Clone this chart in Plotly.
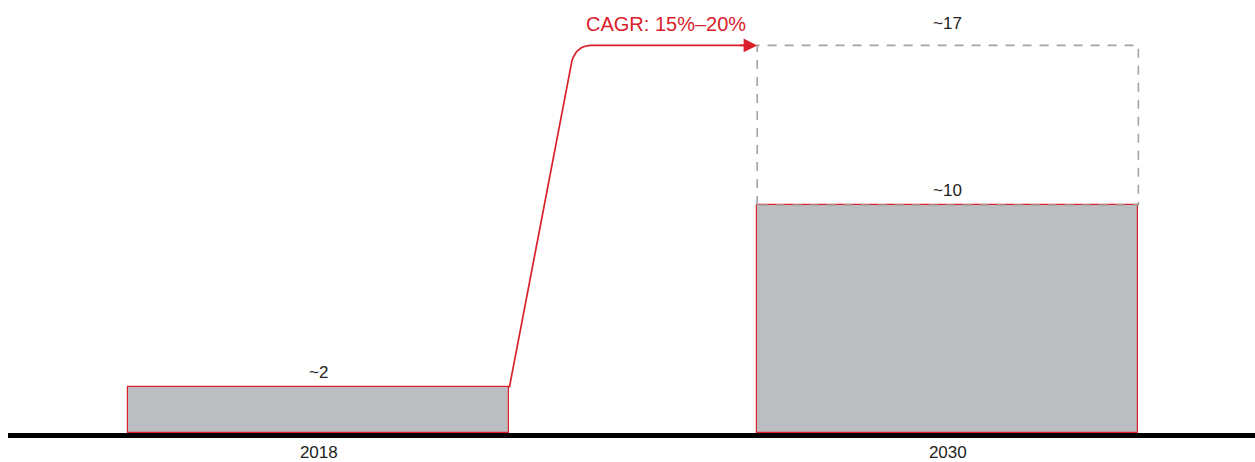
import plotly.graph_objects as go

# ---- data ----
categories = ["2018", "2030"]
base_values = [2, 10]
base_labels = ["~2", "~10"]
high_value = 17
high_label = "~17"
cagr_text = "CAGR: 15%–20%"

# ---- style ----
RED = "#d9202b"
GREY_FILL = "#bcbdc1"
DASH_GREY = "#a4a4a4"
TEXT = "#222222"
FONT = "Liberation Sans, Arial, sans-serif"
BAR_W = 0.606

xpos = list(range(len(categories)))
half = BAR_W / 2

fig = go.Figure()

fig.add_trace(go.Bar(
    x=xpos, y=base_values, width=BAR_W,
    marker=dict(color=GREY_FILL, line=dict(color=RED, width=1.2)),
    hoverinfo="skip", showlegend=False,
))

# dashed range box for 2030 (from base value to high value)
x2030 = xpos[1]
fig.add_trace(go.Scatter(
    x=[x2030 - half, x2030 - half, x2030 + half, x2030 + half, x2030 - half],
    y=[base_values[1], high_value, high_value, base_values[1], base_values[1]],
    mode="lines", line=dict(color=DASH_GREY, width=1.6, dash="9px,8px"),
    hoverinfo="skip", showlegend=False,
))

# CAGR arrow path: from top-right of 2018 bar, up, rounded corner, to 2030 high box
x_start = xpos[0] + half
y_start = base_values[0]
x_end = x2030 - half
y_end = high_value
# corner geometry (style)
cx_line_end, cy_line_end = 0.400, y_end - 0.95
cx_ctrl = 0.406
cx_curve_end = 0.433
path_x = [x_start, cx_line_end]
path_y = [y_start, cy_line_end]
n = 12
for i in range(1, n + 1):
    t = i / n
    bx = (1 - t) ** 2 * cx_line_end + 2 * (1 - t) * t * cx_ctrl + t ** 2 * cx_curve_end
    by = (1 - t) ** 2 * cy_line_end + 2 * (1 - t) * t * y_end + t ** 2 * y_end
    path_x.append(bx)
    path_y.append(by)
path_x.append(x_end - 0.015)
path_y.append(y_end)
fig.add_trace(go.Scatter(
    x=path_x, y=path_y, mode="lines",
    line=dict(color=RED, width=1.7, shape="linear"),
    hoverinfo="skip", showlegend=False,
))

annotations = []
annotations.append(dict(
    x=x_end, y=y_end, ax=x_end - 0.03, ay=y_end,
    xref="x", yref="y", axref="x", ayref="y",
    showarrow=True, arrowhead=2, arrowsize=1.6, arrowwidth=1.7,
    arrowcolor=RED, text="",
))
annotations.append(dict(
    x=0.552, y=y_end, xref="x", yref="y", text=cagr_text,
    showarrow=False, yanchor="bottom", yshift=8,
    font=dict(family=FONT, size=20, color=RED),
))
for xi, v, lab in zip(xpos, base_values, base_labels):
    annotations.append(dict(
        x=xi, y=v, xref="x", yref="y", text=lab, showarrow=False,
        yanchor="bottom", yshift=3, font=dict(family=FONT, size=17, color=TEXT),
    ))
annotations.append(dict(
    x=x2030, y=high_value, xref="x", yref="y", text=high_label, showarrow=False,
    yanchor="bottom", yshift=10, font=dict(family=FONT, size=17, color=TEXT),
))

PX_PER_UNIT = 22.8
plot_h = 462 - 10 - 29
fig.update_layout(
    width=1255, height=462,
    margin=dict(l=8, r=0, t=10, b=29),
    paper_bgcolor="white", plot_bgcolor="white",
    annotations=annotations,
    bargap=0,
    xaxis=dict(
        range=[-0.4941, 1.4884], tickvals=xpos, ticktext=categories,
        showgrid=False, zeroline=False, showline=True, linecolor="black",
        linewidth=5, ticks="", tickfont=dict(family=FONT, size=17, color=TEXT),
        fixedrange=True,
    ),
    yaxis=dict(
        range=[0, plot_h / PX_PER_UNIT], visible=False, showgrid=False,
        zeroline=False, fixedrange=True,
    ),
)

fig.write_html("out.html")
